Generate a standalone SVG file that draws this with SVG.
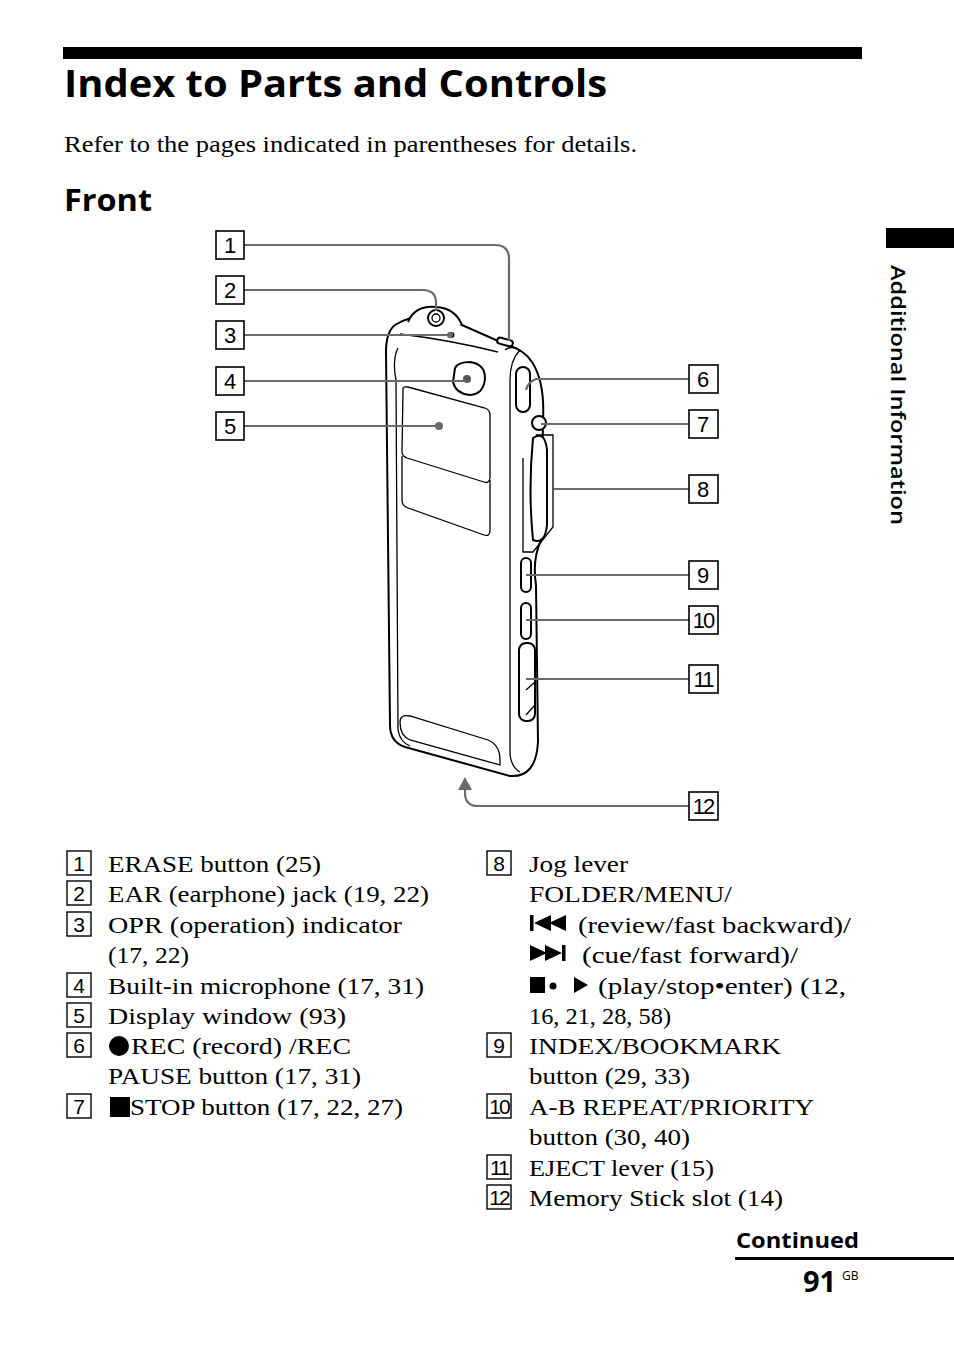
<svg xmlns="http://www.w3.org/2000/svg" width="954" height="1345" viewBox="0 0 954 1345">
<style>
.serif{font-family:"Liberation Serif",serif;font-size:24px;fill:#000}
.sans{font-family:"Open Sans","Liberation Sans",sans-serif;fill:#000}
.cb{fill:#fff;stroke:#000;stroke-width:1.6}
.cn{font-family:"Liberation Sans Narrow","Liberation Sans",sans-serif;font-size:22px;text-anchor:middle;fill:#000}
.ln{font-family:"Liberation Sans Narrow","Liberation Sans",sans-serif;font-size:21px;text-anchor:middle;fill:#000}
.lb{fill:#fff;stroke:#000;stroke-width:1.4}
.lead{fill:none;stroke:#6a6a6a;stroke-width:2.2}
.dev{fill:#fff;stroke:#000;stroke-width:2}
.thin{fill:none;stroke:#000;stroke-width:1.3}
</style>
<rect x="63" y="47" width="799" height="12" fill="#000"/>
<text class="sans" x="64" y="97" font-size="37" font-weight="bold" textLength="543" lengthAdjust="spacingAndGlyphs">Index to Parts and Controls</text>
<text class="serif" x="64" y="152" font-size="22" textLength="573" lengthAdjust="spacingAndGlyphs">Refer to the pages indicated in parentheses for details.</text>
<text class="sans" x="64" y="211" font-size="30" font-weight="bold" textLength="88" lengthAdjust="spacingAndGlyphs">Front</text>
<rect x="886" y="228" width="68" height="20" fill="#000"/>
<text class="sans" font-size="20" font-weight="600" transform="translate(891,265) rotate(90)" textLength="260" lengthAdjust="spacingAndGlyphs">Additional Information</text>

<g id="device">
<path class="dev" d="M395,325 Q420,310 446,318 L505,344 Q525,350 532,362 Q545,382 543,420 L541,540 Q532,560 536,585 L538,742 Q536,778 510,776 L405,747 Q390,742 390,725 L386,352 Q386,332 395,325 Z"/>
<path class="thin" d="M398,348 Q392,360 396,380 L398,730 Q400,742 410,746"/>
<path class="thin" d="M505,350 Q512,345 520,350 Q510,360 510,380 L510,755 Q512,768 520,772"/>
<path class="thin" d="M400,334 Q450,340 498,352"/>
<path class="dev" d="M408,322 Q415,305 436,307 Q455,308 462,325" />
<circle cx="436" cy="318" r="8" class="dev"/><circle cx="436" cy="318" r="4" class="thin"/>
<ellipse cx="451" cy="335" rx="3.5" ry="3" fill="#000"/>
<rect x="497" y="339" width="16" height="6" rx="3" class="dev" transform="rotate(15 505 342)"/>
<path class="dev" d="M455,368 Q458,362 470,362 Q485,364 485,378 Q484,394 470,395 Q456,394 453,382 Z"/>
<circle cx="467" cy="379" r="4" fill="#555"/>
<path class="thin" d="M403,390 Q402,386 408,387 L485,408 Q490,410 490,415 L490,478 Q489,484 484,482 L407,458 Q402,456 402,452 Z"/>
<path class="thin" d="M402,456 L402,500 Q402,506 408,508 L484,535 Q490,537 490,530 L490,480"/>
<path class="thin" d="M400,722 Q400,714 410,716 L488,740 Q500,745 500,760 L500,765 L410,740 Q400,736 400,722 Z"/>
<rect x="516" y="367" width="14" height="45" rx="7" class="dev"/>
<circle cx="539" cy="423" r="7" class="dev"/>
<path class="dev" d="M533,438 Q545,430 547,450 L547,525 Q545,545 533,540 Q528,490 533,438 Z"/>
<path class="thin" d="M523,458 L523,552 L533,552 L553,527 L553,435 L536,435" stroke="#777" stroke-width="1.6"/>
<rect x="521" y="558" width="10" height="34" rx="5" class="dev"/>
<rect x="521" y="603" width="10" height="36" rx="5" class="dev"/>
<rect x="519" y="643" width="16" height="78" rx="7" class="dev"/>
<path class="thin" d="M526,690 L535,682 L535,705 L526,715"/>
</g>

<g id="connectors">
<path class="lead" d="M244,245 L495,245 Q509,245 509,259 L509,341"/>
<path class="lead" d="M244,290 L423,290 Q436,290 436,303 L436,311"/>
<path class="lead" d="M244,335 L450,335"/><circle cx="450" cy="335" r="3" fill="#6a6a6a"/>
<path class="lead" d="M244,381 L467,381"/>
<path class="lead" d="M244,426 L439,426"/><circle cx="439" cy="426" r="4" fill="#6a6a6a"/>
<path class="lead" d="M689,379 L536,379 Q528,382 526,390"/>
<path class="lead" d="M689,424 L541,424"/>
<path class="lead" d="M689,489 L554,489"/>
<path class="lead" d="M689,575 L526,575"/>
<path class="lead" d="M689,620 L526,620"/>
<path class="lead" d="M689,679 L526,679"/>
<path class="lead" d="M689,806 L478,806 Q465,806 465,793 L465,788"/>
<polygon points="458,790 472,790 465,777" fill="#6a6a6a"/>
</g>

<g id="callouts">
<g id="c1"><rect class="cb" x="216" y="231" width="28" height="28"/><text class="cn" x="230" y="253">1</text></g>
<g id="c2"><rect class="cb" x="216" y="276" width="28" height="28"/><text class="cn" x="230" y="298">2</text></g>
<g id="c3"><rect class="cb" x="216" y="321" width="28" height="28"/><text class="cn" x="230" y="343">3</text></g>
<g id="c4"><rect class="cb" x="216" y="367" width="28" height="28"/><text class="cn" x="230" y="389">4</text></g>
<g id="c5"><rect class="cb" x="216" y="412" width="28" height="28"/><text class="cn" x="230" y="434">5</text></g>
<g id="c6"><rect class="cb" x="689" y="365" width="29" height="28"/><text class="cn" x="703" y="387">6</text></g>
<g id="c7"><rect class="cb" x="689" y="410" width="29" height="28"/><text class="cn" x="703" y="432">7</text></g>
<g id="c8"><rect class="cb" x="689" y="475" width="29" height="28"/><text class="cn" x="703" y="497">8</text></g>
<g id="c9"><rect class="cb" x="689" y="561" width="29" height="28"/><text class="cn" x="703" y="583">9</text></g>
<g id="c10"><rect class="cb" x="689" y="606" width="29" height="28"/><text class="cn" x="703" y="628" letter-spacing="-2">10</text></g>
<g id="c11"><rect class="cb" x="689" y="665" width="29" height="28"/><text class="cn" x="703" y="687" letter-spacing="-2">11</text></g>
<g id="c12"><rect class="cb" x="689" y="792" width="29" height="28"/><text class="cn" x="703" y="814" letter-spacing="-2">12</text></g>
</g>

<g id="list">
<rect class="lb" x="67" y="851" width="24" height="24"/><text class="ln" x="79" y="871">1</text>
<text class="serif" x="108" y="872" textLength="213" lengthAdjust="spacingAndGlyphs">ERASE button (25)</text>
<rect class="lb" x="67" y="881" width="24" height="24"/><text class="ln" x="79" y="901">2</text>
<text class="serif" x="108" y="902" textLength="321" lengthAdjust="spacingAndGlyphs">EAR (earphone) jack (19, 22)</text>
<rect class="lb" x="67" y="912" width="24" height="24"/><text class="ln" x="79" y="932">3</text>
<text class="serif" x="108" y="933" textLength="294" lengthAdjust="spacingAndGlyphs">OPR (operation) indicator</text>
<text class="serif" x="108" y="963" textLength="81" lengthAdjust="spacingAndGlyphs">(17, 22)</text>
<rect class="lb" x="67" y="973" width="24" height="24"/><text class="ln" x="79" y="993">4</text>
<text class="serif" x="108" y="994" textLength="316" lengthAdjust="spacingAndGlyphs">Built-in microphone (17, 31)</text>
<rect class="lb" x="67" y="1003" width="24" height="24"/><text class="ln" x="79" y="1023">5</text>
<text class="serif" x="108" y="1024" textLength="238" lengthAdjust="spacingAndGlyphs">Display window (93)</text>
<rect class="lb" x="67" y="1033" width="24" height="24"/><text class="ln" x="79" y="1053">6</text>
<circle cx="119" cy="1046" r="10" fill="#000"/>
<text class="serif" x="131" y="1054" textLength="220" lengthAdjust="spacingAndGlyphs">REC (record) /REC</text>
<text class="serif" x="108" y="1084" textLength="253" lengthAdjust="spacingAndGlyphs">PAUSE button (17, 31)</text>
<rect class="lb" x="67" y="1094" width="24" height="24"/><text class="ln" x="79" y="1114">7</text>
<rect x="110" y="1097" width="20" height="20" fill="#000"/>
<text class="serif" x="130" y="1115" textLength="273" lengthAdjust="spacingAndGlyphs">STOP button (17, 22, 27)</text>

<rect class="lb" x="487" y="851" width="24" height="24"/><text class="ln" x="499" y="871">8</text>
<text class="serif" x="529" y="872" textLength="99" lengthAdjust="spacingAndGlyphs">Jog lever</text>
<text class="serif" x="529" y="902" textLength="203" lengthAdjust="spacingAndGlyphs">FOLDER/MENU/</text>
<rect x="530" y="915" width="3.5" height="16" fill="#000"/>
<polygon points="534,923 551,915 551,931" fill="#000"/><polygon points="549,923 566,915 566,931" fill="#000"/>
<text class="serif" x="578" y="933" textLength="273" lengthAdjust="spacingAndGlyphs">(review/fast backward)/</text>
<polygon points="530,945 547,953 530,961" fill="#000"/><polygon points="545,945 562,953 545,961" fill="#000"/>
<rect x="562" y="945" width="3.5" height="16" fill="#000"/>
<text class="serif" x="582" y="963" textLength="216" lengthAdjust="spacingAndGlyphs">(cue/fast forward)/</text>
<rect x="530" y="977" width="15" height="16" fill="#000"/>
<circle cx="553" cy="986" r="3.5" fill="#000"/>
<polygon points="574,977 588,985 574,993" fill="#000"/>
<text class="serif" x="598" y="994" textLength="248" lengthAdjust="spacingAndGlyphs">(play/stop•enter)  (12,</text>
<text class="serif" x="529" y="1024" textLength="142" lengthAdjust="spacingAndGlyphs">16, 21, 28, 58)</text>
<rect class="lb" x="487" y="1033" width="24" height="24"/><text class="ln" x="499" y="1053">9</text>
<text class="serif" x="529" y="1054" textLength="252" lengthAdjust="spacingAndGlyphs">INDEX/BOOKMARK</text>
<text class="serif" x="529" y="1084" textLength="161" lengthAdjust="spacingAndGlyphs">button (29, 33)</text>
<rect class="lb" x="487" y="1094" width="24" height="24"/><text class="ln" x="499" y="1114" letter-spacing="-2">10</text>
<text class="serif" x="529" y="1115" textLength="285" lengthAdjust="spacingAndGlyphs">A-B REPEAT/PRIORITY</text>
<text class="serif" x="529" y="1145" textLength="161" lengthAdjust="spacingAndGlyphs">button (30, 40)</text>
<rect class="lb" x="487" y="1155" width="24" height="24"/><text class="ln" x="499" y="1175" letter-spacing="-2">11</text>
<text class="serif" x="529" y="1176" textLength="185" lengthAdjust="spacingAndGlyphs">EJECT lever (15)</text>
<rect class="lb" x="487" y="1185" width="24" height="24"/><text class="ln" x="499" y="1205" letter-spacing="-2">12</text>
<text class="serif" x="529" y="1206" textLength="254" lengthAdjust="spacingAndGlyphs">Memory Stick slot (14)</text>
</g>

<text class="sans" x="736" y="1248" font-size="22" font-weight="bold" textLength="123" lengthAdjust="spacingAndGlyphs">Continued</text>
<rect x="735" y="1257" width="219" height="3" fill="#000"/>
<text class="sans" x="803" y="1292" font-size="29" font-weight="bold">91</text>
<text class="sans" x="842" y="1280" font-size="12">GB</text>
</svg>
